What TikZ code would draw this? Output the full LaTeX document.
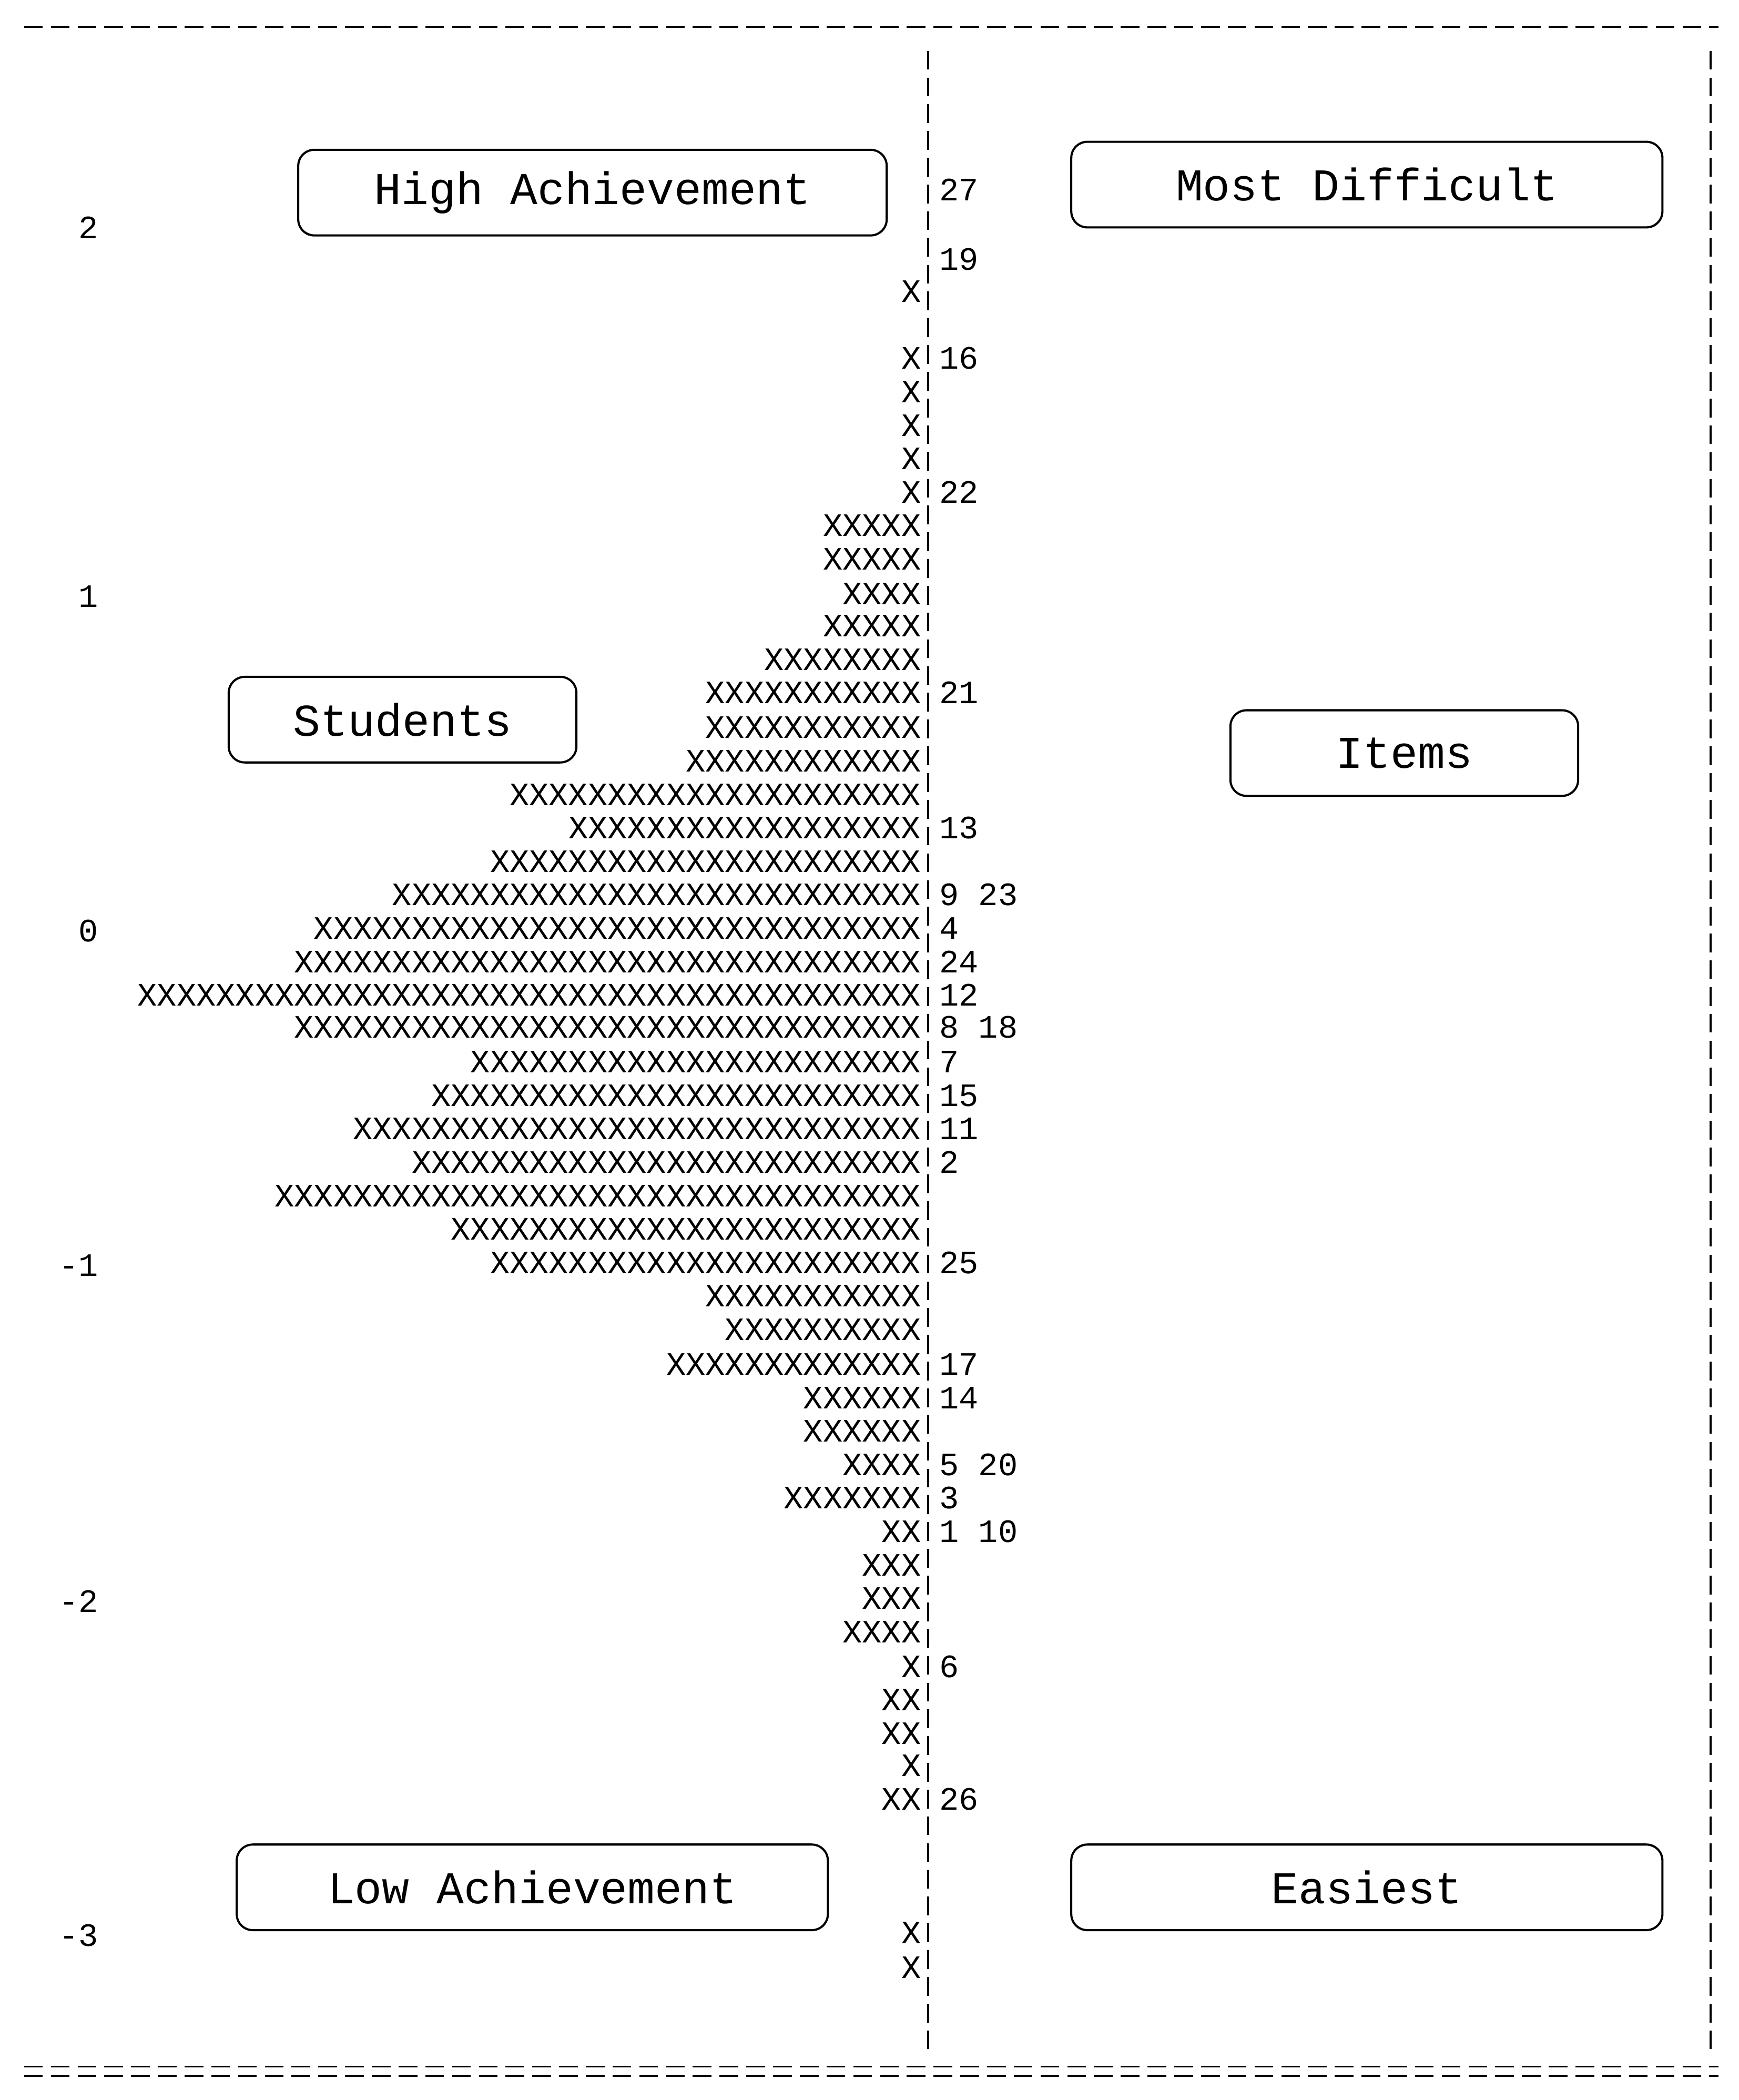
\documentclass[tikz,border=0pt]{standalone}
\usepackage{fontspec}
\setmainfont{Liberation Mono}
\begin{document}
\begin{tikzpicture}[x=0.5pt,y=-0.5pt,
  row/.style={font=\fontsize{12.2pt}{12.2pt}\selectfont,inner sep=0pt},
  box/.style={draw,rounded corners=6pt,line width=0.8pt,font=\fontsize{17pt}{17pt}\selectfont,inner sep=0pt},
  dl/.style={line width=0.7pt,dash pattern=on 7pt off 3pt}]
\useasboundingbox (0,0) rectangle (1300,1570);
\draw[dl] (18,20) -- (1285,20);
\draw[dl] (18,1545) -- (1285,1545);
\draw[dl] (18,1552) -- (1285,1552);
\draw[dl] (694,38) -- (694,1532);
\draw[dl] (1279,38) -- (1279,1532);
\foreach \y/\t in {170/2,446/1,696/0,946/-1,1197/-2,1447/-3}
  \node[row,anchor=east] (ax\t) at (74,\y) {\t};
\foreach \y/\s/\l [count=\i] in {
 144//27,196//19,220/X/,270/X/16,295/X/,320/X/,345/X/,370/X/22,
 395/XXXXX/,420/XXXXX/,446/XXXX/,470/XXXXX/,495/XXXXXXXX/,
 520/XXXXXXXXXXX/21,546/XXXXXXXXXXX/,571/XXXXXXXXXXXX/,
 596/XXXXXXXXXXXXXXXXXXXXX/,621/XXXXXXXXXXXXXXXXXX/13,
 646/XXXXXXXXXXXXXXXXXXXXXX/,671/XXXXXXXXXXXXXXXXXXXXXXXXXXX/9 23,
 696/XXXXXXXXXXXXXXXXXXXXXXXXXXXXXXX/4,
 721/XXXXXXXXXXXXXXXXXXXXXXXXXXXXXXXX/24,
 746/XXXXXXXXXXXXXXXXXXXXXXXXXXXXXXXXXXXXXXXX/12,
 770/XXXXXXXXXXXXXXXXXXXXXXXXXXXXXXXX/8 18,
 796/XXXXXXXXXXXXXXXXXXXXXXX/7,
 821/XXXXXXXXXXXXXXXXXXXXXXXXX/15,
 846/XXXXXXXXXXXXXXXXXXXXXXXXXXXXX/11,
 871/XXXXXXXXXXXXXXXXXXXXXXXXXX/2,
 896/XXXXXXXXXXXXXXXXXXXXXXXXXXXXXXXXX/,
 921/XXXXXXXXXXXXXXXXXXXXXXXX/,
 946/XXXXXXXXXXXXXXXXXXXXXX/25,
 971/XXXXXXXXXXX/,996/XXXXXXXXXX/,1022/XXXXXXXXXXXXX/17,
 1047/XXXXXX/14,1072/XXXXXX/,1097/XXXX/5 20,1122/XXXXXXX/3,
 1147/XX/1 10,1172/XXX/,1197/XXX/,1222/XXXX/,1248/X/6,
 1273/XX/,1298/XX/,1322/X/,1347/XX/26,1447/X/,1473/X/}{
  \node[row,anchor=base east] (x\i) at (689,\y+6) {\s};
  \node[row,anchor=base west] (l\i) at (702,\y+6) {\l};
}
\node[box,minimum width=220pt,minimum height=32pt] (ha) at (443,144) {High Achievement};
\node[box,minimum width=221pt,minimum height=32pt] (md) at (1022,138) {Most Difficult};
\node[box,minimum width=130pt,minimum height=32pt] (st) at (301,538) {Students};
\node[box,minimum width=130pt,minimum height=32pt] (it) at (1050,563) {Items};
\node[box,minimum width=221pt,minimum height=32pt] (la) at (398,1411) {Low Achievement};
\node[box,minimum width=221pt,minimum height=32pt] (ea) at (1022,1411) {Easiest};
\end{tikzpicture}
\end{document}
